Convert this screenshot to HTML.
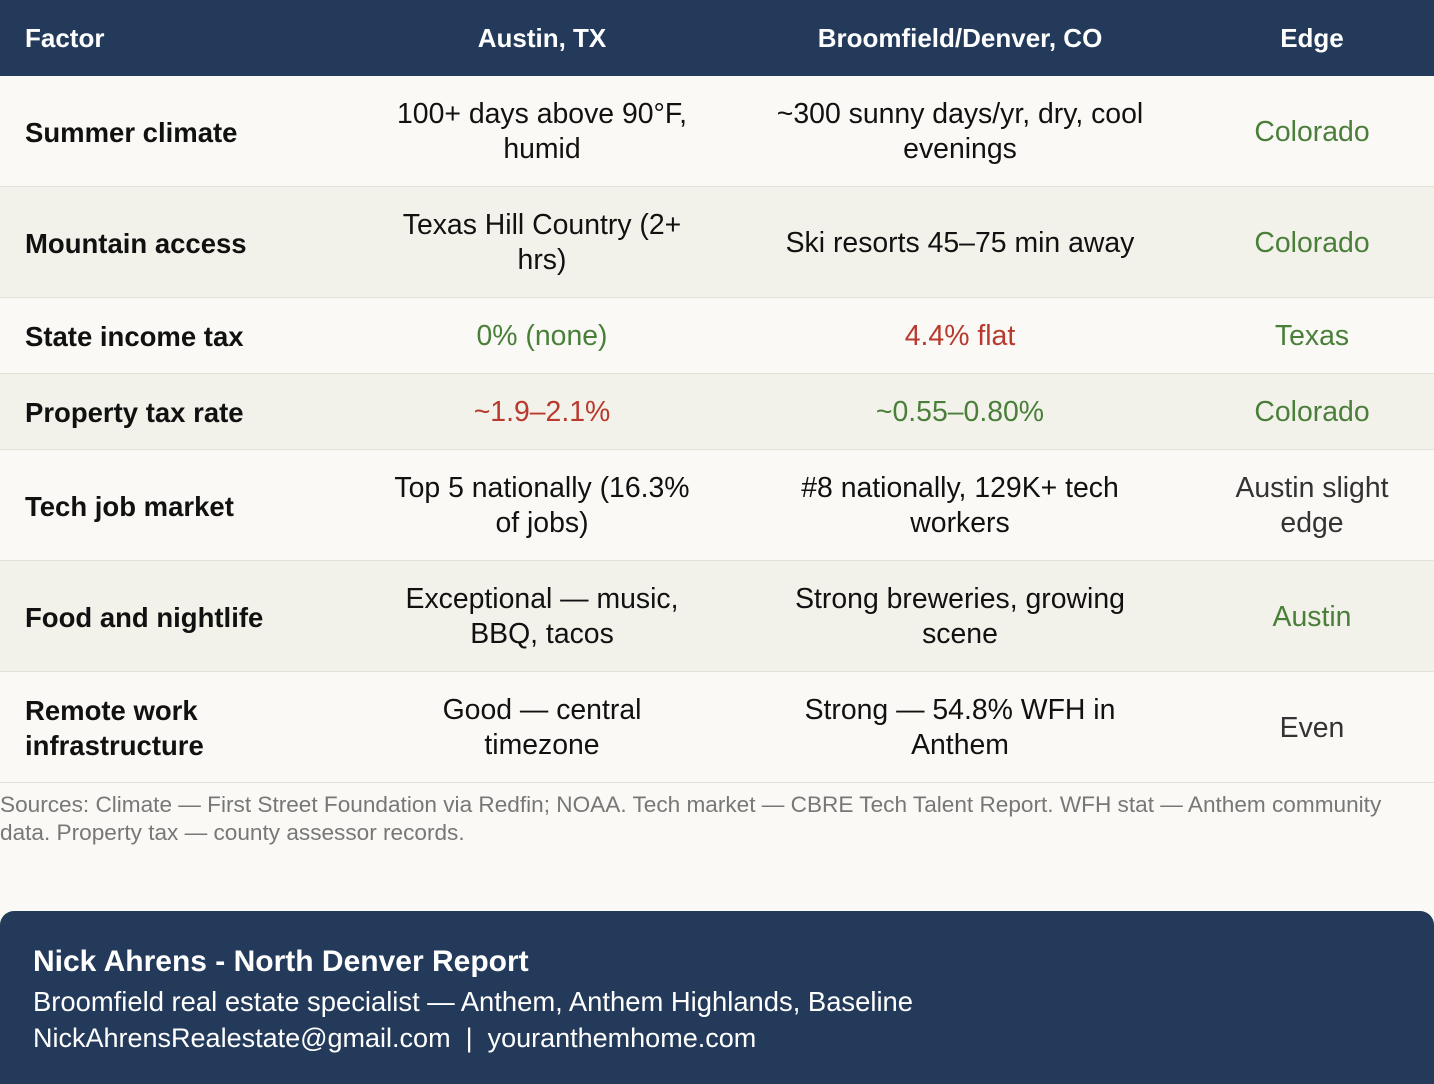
<!DOCTYPE html>
<html><head><meta charset="utf-8"><style>
body{margin:0;width:1434px;height:1084px;background:#faf9f5;font-family:"Liberation Sans",sans-serif;position:relative;overflow:hidden;color:#111}
table{border-collapse:collapse;width:1434px;table-layout:fixed;position:absolute;top:0;left:0}
th{background:#243a5a;color:#fff;font-size:26px;font-weight:bold;height:76px;padding:0}
td{font-size:28.4px;line-height:35px;text-align:center;padding:3px 0 0 0;border-bottom:1px solid #e4e2d8}
td:first-child,th:first-child{text-align:left;padding-left:25px;font-weight:bold}
td:first-child{font-size:27.5px}
tr.alt td{background:#f3f2ea}
.g{color:#4a7f3a}.r{color:#b83a2e}.e{color:#333}
.src{position:absolute;top:791px;left:0;width:1420px;font-size:22.6px;line-height:28px;color:#777}
.foot{position:absolute;top:911px;left:0;width:1434px;height:173px;background:#243a5a;border-radius:14px 14px 0 0;color:#fff}
.foot div{position:absolute;left:33px}
</style></head><body>
<table>
<colgroup><col style="width:372px"><col style="width:340px"><col style="width:496px"><col style="width:226px"></colgroup>
<tr><th>Factor</th><th>Austin, TX</th><th>Broomfield/Denver, CO</th><th style="padding-right:18px">Edge</th></tr>
<tr style="height:110px"><td>Summer climate</td><td>100+ days above 90°F,<br>humid</td><td>~300 sunny days/yr, dry, cool<br>evenings</td><td class="g" style="padding-right:18px">Colorado</td></tr>
<tr class="alt" style="height:111px"><td>Mountain access</td><td>Texas Hill Country (2+<br>hrs)</td><td>Ski resorts 45–75 min away</td><td class="g" style="padding-right:18px">Colorado</td></tr>
<tr style="height:76px"><td>State income tax</td><td class="g">0% (none)</td><td class="r">4.4% flat</td><td class="g" style="padding-right:18px">Texas</td></tr>
<tr class="alt" style="height:76px"><td>Property tax rate</td><td class="r">~1.9–2.1%</td><td class="g">~0.55–0.80%</td><td class="g" style="padding-right:18px">Colorado</td></tr>
<tr style="height:111px"><td>Tech job market</td><td>Top 5 nationally (16.3%<br>of jobs)</td><td>#8 nationally, 129K+ tech<br>workers</td><td class="e" style="padding-right:18px">Austin slight<br>edge</td></tr>
<tr class="alt" style="height:111px"><td>Food and nightlife</td><td>Exceptional — music,<br>BBQ, tacos</td><td>Strong breweries, growing<br>scene</td><td class="g" style="padding-right:18px">Austin</td></tr>
<tr style="height:111px"><td>Remote work<br>infrastructure</td><td>Good — central<br>timezone</td><td>Strong — 54.8% WFH in<br>Anthem</td><td class="e" style="padding-right:18px">Even</td></tr>
</table>
<div class="src">Sources: Climate — First Street Foundation via Redfin; NOAA. Tech market — CBRE Tech Talent Report. WFH stat — Anthem community<br>data. Property tax — county assessor records.</div>
<div class="foot">
<div style="top:34px;font-size:30px;font-weight:bold">Nick Ahrens - North Denver Report</div>
<div style="top:75px;font-size:27.4px">Broomfield real estate specialist — Anthem, Anthem Highlands, Baseline</div>
<div style="top:112px;font-size:27px">NickAhrensRealestate@gmail.com &nbsp;| &nbsp;youranthemhome.com</div>
</div>
</body></html>
